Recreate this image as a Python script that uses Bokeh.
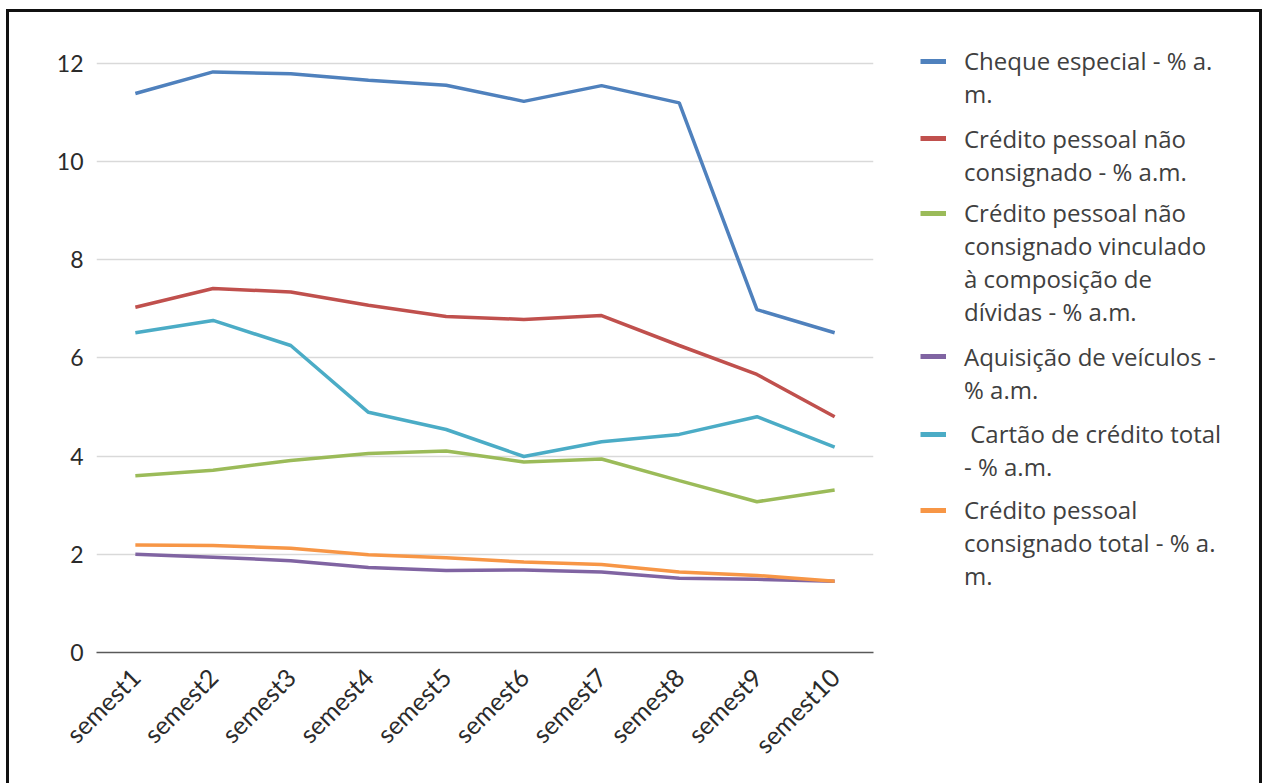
import math
import numpy as np
from bokeh.plotting import figure
from bokeh.layouts import row
from bokeh.models import FactorRange, Range1d, Legend, LegendItem, FixedTicker
from bokeh.embed import file_html
from bokeh.resources import INLINE

semesters = ["semest1", "semest2", "semest3", "semest4", "semest5",
             "semest6", "semest7", "semest8", "semest9", "semest10"]

cheque_especial = [11.38, 11.82, 11.78, 11.65, 11.55, 11.22, 11.54, 11.19, 6.98, 6.51]
pessoal_nao_consignado = [7.03, 7.41, 7.34, 7.07, 6.84, 6.78, 6.86, 6.25, 5.66, 4.80]
nao_consig_composicao = [3.60, 3.71, 3.91, 4.05, 4.10, 3.88, 3.94, 3.50, 3.07, 3.31]
aquisicao_veiculos = [2.00, 1.94, 1.87, 1.73, 1.67, 1.68, 1.64, 1.51, 1.49, 1.45]
cartao_credito = [6.51, 6.76, 6.25, 4.89, 4.54, 3.99, 4.29, 4.44, 4.80, 4.18]
pessoal_consignado = [2.19, 2.18, 2.12, 1.99, 1.93, 1.84, 1.79, 1.64, 1.57, 1.45]

series_labels = [
    "Cheque especial - % a.\nm.",
    "Crédito pessoal não\nconsignado - % a.m.",
    "Crédito pessoal não\nconsignado vinculado\nà composição de\ndívidas - % a.m.",
    "Aquisição de veículos -\n% a.m.",
    " Cartão de crédito total\n- % a.m.",
    "Crédito pessoal\nconsignado total - % a.\nm.",
]
series_values = [cheque_especial, pessoal_nao_consignado, nao_consig_composicao,
                 aquisicao_veiculos, cartao_credito, pessoal_consignado]
series_colors = ["#4F81BD", "#C0504D", "#9BBB59", "#8064A2", "#4BACC6", "#F79646"]
y_ticks = [0, 2, 4, 6, 8, 10, 12]
y_max = 12.5

# layout (pixels)
FRAME_W, FRAME_H = 777, 614
LEFT, TOP, BOTTOM, RIGHT = 87, 26, 131, 10
H = TOP + FRAME_H + BOTTOM
LEG_W = 376
PAGE_FRAME_TOP = 12 + TOP

p = figure(x_range=FactorRange(*semesters), y_range=Range1d(0, y_max),
           width=LEFT + FRAME_W + RIGHT, height=H,
           output_backend="svg", toolbar_location=None,
           min_border_left=LEFT, min_border_top=TOP,
           min_border_right=RIGHT, min_border_bottom=BOTTOM)
p.outline_line_color = None
p.background_fill_color = "white"
p.border_fill_color = "white"

p.xgrid.grid_line_color = None
p.ygrid.grid_line_color = "#d9d9d9"
p.ygrid.grid_line_width = 1.5

p.yaxis.ticker = FixedTicker(ticks=y_ticks)
p.yaxis.axis_line_color = None
p.yaxis.major_tick_line_color = None
p.yaxis.minor_tick_line_color = None
p.yaxis.major_label_text_font = "Lato"
p.yaxis.major_label_text_font_size = "23px"
p.yaxis.major_label_text_color = "#2b2b2b"
p.yaxis.major_label_standoff = 7

p.xaxis.axis_line_color = "#595959"
p.xaxis.axis_line_width = 1.5
p.xaxis.major_tick_line_color = None
p.xaxis.minor_tick_line_color = None
p.xaxis.major_label_orientation = math.pi / 4
p.xaxis.major_label_text_font = "Lato"
p.xaxis.major_label_text_font_size = "25px"
p.xaxis.major_label_text_color = "#2b2b2b"
p.xaxis.major_label_standoff = 14

for vals, col in zip(series_values, series_colors):
    p.line(x=semesters, y=vals, line_color=col, line_width=3.5)

# legend panel (a plain figure holding only the legend keys)
lf = figure(width=LEG_W, height=H, x_range=Range1d(0, 1), y_range=Range1d(0, 1),
            x_axis_type=None, y_axis_type=None, output_backend="svg",
            toolbar_location=None, min_border=0)
lf.outline_line_color = None
lf.grid.visible = False
lf.background_fill_color = "white"
lf.border_fill_color = "white"

nan = np.array([np.nan])
key_renderers = [lf.line(x=nan, y=nan, line_color=col, line_width=5) for col in series_colors]
blank = lf.line(x=nan, y=nan, line_alpha=0)

LINE_H = 31.5
GAP = 14.5
top = 47.0  # page y of the legend's top edge
for label, r in zip(series_labels, key_renderers):
    lines = label.split("\n")
    its = [LegendItem(label=lines[0], renderers=[r])]
    if len(lines) > 1:
        its.append(LegendItem(label="\n".join(lines[1:]), renderers=[blank]))
    bottom = top + len(lines) * LINE_H
    leg = Legend(items=its, location=(37, FRAME_H - (bottom - PAGE_FRAME_TOP)),
                 glyph_width=26, glyph_height=16, label_height=16,
                 label_standoff=18, spacing=0, padding=0, margin=0,
                 label_text_font="Open Sans", label_text_font_size="24px",
                 label_text_color="#404040", label_text_line_height=1.2,
                 border_line_color=None, background_fill_alpha=0)
    lf.add_layout(leg, "center")
    top = bottom + GAP

layout = row(p, lf, spacing=0)
layout.styles = {"margin-left": "6px", "margin-top": "9px",
                 "border-left": "3px solid #111", "border-top": "3px solid #111",
                 "border-right": "3px solid #111"}

open("out.html", "w").write(file_html(layout, INLINE))
